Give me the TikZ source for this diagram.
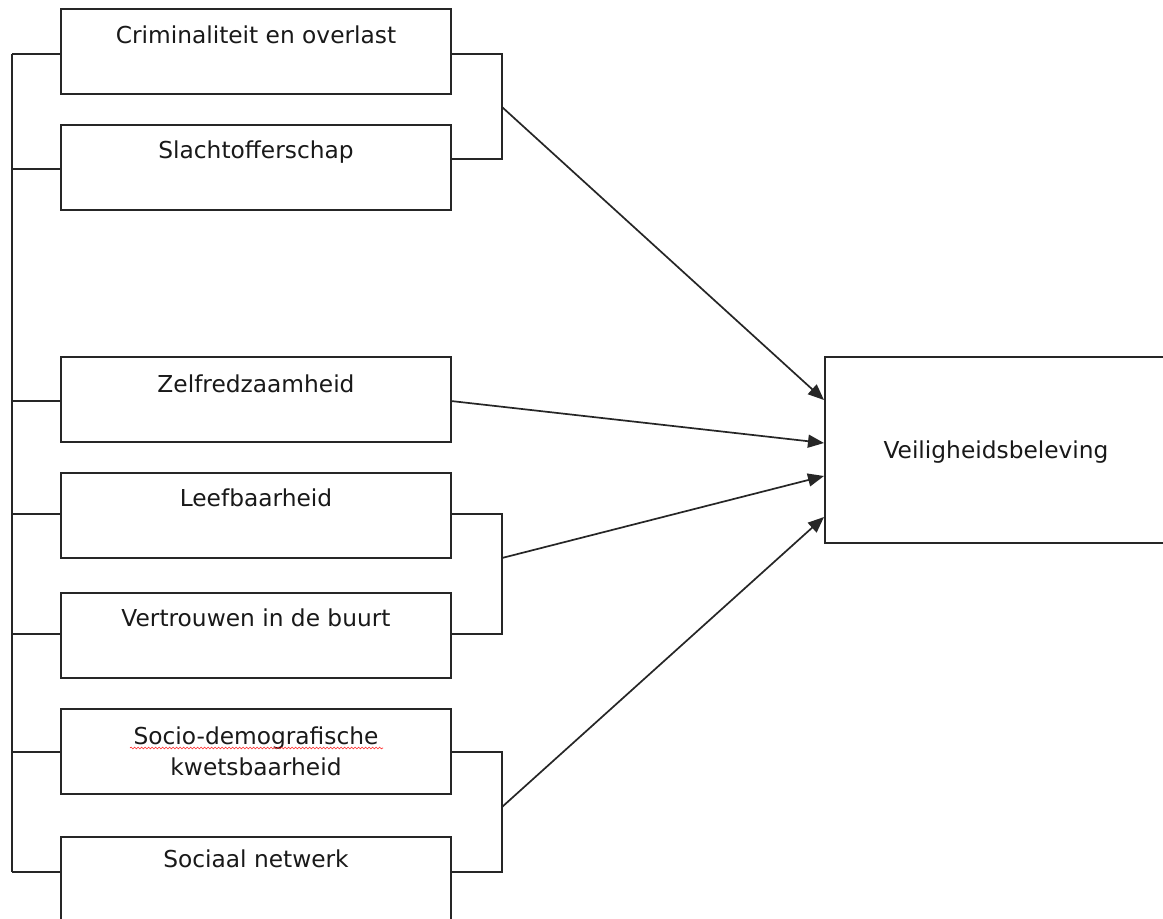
\documentclass[tikz,border=0pt]{standalone}
\usepackage{fontspec}
\setmainfont{DejaVu Sans}
\usetikzlibrary{arrows.meta,decorations.pathmorphing}
\begin{document}
\begin{tikzpicture}[x=1pt,y=-1pt,
  box/.style={draw=black!85,line width=2pt,rectangle,minimum width=390pt,minimum height=85pt,inner sep=0pt},
  bigbox/.style={draw=black!85,line width=2pt,rectangle,minimum width=360pt,minimum height=186pt,inner sep=0pt},
  lbl/.style={anchor=base,inner sep=0pt,font=\fontsize{23.3}{31}\selectfont,text=black!90,align=center},
  conn/.style={draw=black!85,line width=2pt},
  arr/.style={draw=black!85,line width=1.7pt,-{Triangle[length=16pt,width=13pt]}}]
\clip (0,0) rectangle (1163,919);
\fill[white] (0,0) rectangle (1163,919);
% boxes
\node[box] (b1) at (256,51.5) {};
\node[box] (b2) at (256,167) {};
\node[box] (b3) at (256,399.5) {};
\node[box] (b4) at (256,515.5) {};
\node[box] (b5) at (256,635.5) {};
\node[box] (b6) at (256,751.5) {};
\node[box] (b7) at (256,879.5) {};
\node[bigbox] (V) at (1005,450) {};
% labels
\node[lbl] (t1) at (256,43) {Criminaliteit en overlast};
\node[lbl] (t2) at (256,158) {Slachtofferschap};
\node[lbl] (t3) at (256,392) {Zelfredzaamheid};
\node[lbl] (t4) at (256,506) {Leefbaarheid};
\node[lbl] (t5) at (256,626) {Vertrouwen in de buurt};
\node[lbl] (t6) at (256,775) {Socio-demografische\\kwetsbaarheid};
\node[lbl] (t7) at (256,867) {Sociaal netwerk};
\node[lbl] (tV) at (996,458) {Veiligheidsbeleving};
\draw[red!85,line width=0.6pt,decorate,decoration={snake,amplitude=0.9pt,segment length=3.5pt}] (130,748) -- (383,748);
% left bus
\coordinate (L1) at (12,54);
\coordinate (L2) at (12,169);
\coordinate (L3) at (12,401);
\coordinate (L4) at (12,514);
\coordinate (L5) at (12,634);
\coordinate (L6) at (12,752);
\coordinate (L7) at (12,872);
\draw[conn] (L1) -- (L7);
\draw[conn] (L1) -- (L1 -| b1.west);
\draw[conn] (L2) -- (L2 -| b2.west);
\draw[conn] (L3) -- (L3 -| b3.west);
\draw[conn] (L4) -- (L4 -| b4.west);
\draw[conn] (L5) -- (L5 -| b5.west);
\draw[conn] (L6) -- (L6 -| b6.west);
\draw[conn] (L7) -- (L7 -| b7.west);
% right brackets
\coordinate (R1) at (502,54);
\coordinate (R2) at (502,159);
\coordinate (R4) at (502,514);
\coordinate (R5) at (502,634);
\coordinate (R6) at (502,752);
\coordinate (R7) at (502,872);
\draw[conn] (R1 -| b1.east) -- (R1) -- (R2) -- (R2 -| b2.east);
\draw[conn] (R4 -| b4.east) -- (R4) -- (R5) -- (R5 -| b5.east);
\draw[conn] (R6 -| b6.east) -- (R6) -- (R7) -- (R7 -| b7.east);
% arrow origins
\coordinate (jA) at (502,107);
\coordinate (jZ) at (451,401);
\coordinate (jB) at (502,558);
\coordinate (jC) at (502,807);
\coordinate (e1) at (825,400);
\coordinate (e2) at (825,443);
\coordinate (e3) at (825,476);
\coordinate (e4) at (825,517);
\draw[arr] (jA) -- (e1 -| V.west);
\draw[arr] (jZ) -- (e2 -| V.west);
\draw[arr] (jB) -- (e3 -| V.west);
\draw[arr] (jC) -- (e4 -| V.west);
\end{tikzpicture}
\end{document}
